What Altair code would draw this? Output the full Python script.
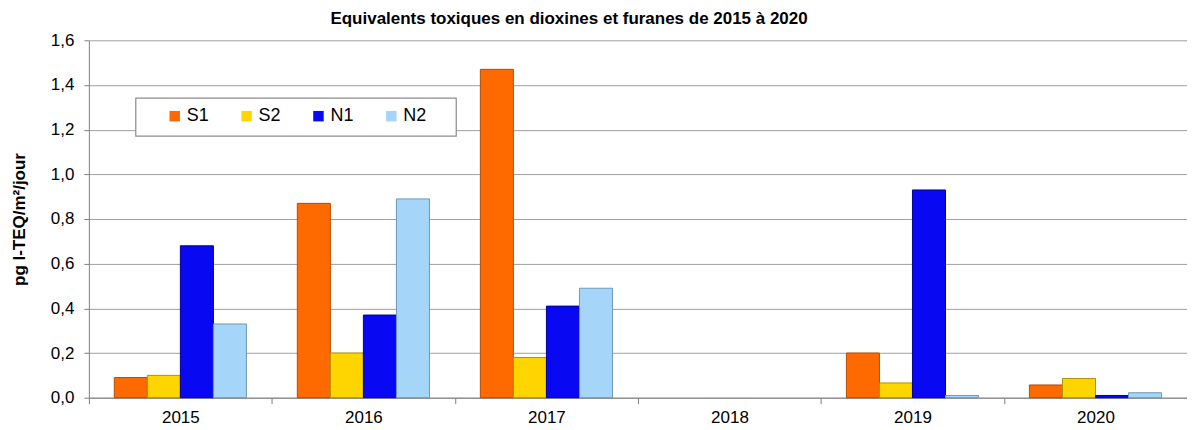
import altair as alt
import pandas as pd

years = ["2015", "2016", "2017", "2018", "2019", "2020"]
series = ["S1", "S2", "N1", "N2"]
s1 = [0.09, 0.87, 1.47, None, 0.20, 0.057]
s2 = [0.10, 0.20, 0.18, None, 0.066, 0.086]
n1 = [0.68, 0.37, 0.41, None, 0.93, 0.01]
n2 = [0.33, 0.89, 0.49, None, 0.01, 0.022]
colors = ["#FF6A00", "#FFD500", "#0808F2", "#A6D5FA"]
strokes = ["#B84A00", "#B09200", "#000098", "#6E98B8"]

rows = []
for name, vals in zip(series, [s1, s2, n1, n2]):
    for y, v in zip(years, vals):
        rows.append({"year": y, "serie": name, "value": v})
df = pd.DataFrame(rows)

FONT = "Liberation Sans"

bars = alt.Chart(df).mark_bar(strokeWidth=1).encode(
    x=alt.X("year:N", sort=years, title=None,
            scale=alt.Scale(paddingInner=0, paddingOuter=0),
            axis=alt.Axis(labelAngle=0, labelFontSize=17, labelFont=FONT,
                          labelColor="#000000", tickBand="extent", tickSize=6,
                          tickColor="#808080", domainColor="#808080",
                          labelPadding=6, grid=False)),
    xOffset=alt.XOffset("serie:N", sort=series,
                        scale=alt.Scale(paddingInner=0, paddingOuter=0.77)),
    y=alt.Y("value:Q", title="pg I-TEQ/m²/jour",
            scale=alt.Scale(domain=[0, 1.6], nice=False),
            axis=alt.Axis(values=[0, 0.2, 0.4, 0.6, 0.8, 1.0, 1.2, 1.4, 1.6],
                          labelExpr="replace(format(datum.value, '.1f'), '.', ',')",
                          labelFontSize=17, labelFont=FONT, labelColor="#000000",
                          tickSize=5, tickColor="#808080", domainColor="#808080",
                          labelPadding=10, gridColor="#A0A0A0",
                          titleFont=FONT, titleFontSize=17, titleFontWeight="bold",
                          titleColor="#000000", titlePadding=22)),
    color=alt.Color("serie:N", sort=series,
                    scale=alt.Scale(domain=series, range=colors),
                    legend=alt.Legend(orient="none", legendX=77, legendY=67,
                                      direction="horizontal", title=None,
                                      labelFontSize=18, labelFont=FONT,
                                      labelColor="#000000", symbolType="square",
                                      symbolSize=110, columnPadding=28,
                                      labelOffset=3, symbolStrokeWidth=0)),
    stroke=alt.Stroke("serie:N", sort=series,
                      scale=alt.Scale(domain=series, range=strokes), legend=None),
)

box = alt.Chart(pd.DataFrame({"a": [0]})).mark_rect(
    fill="white", stroke="#8C8C8C", strokeWidth=1.2
).encode(x=alt.value(47), x2=alt.value(368), y=alt.value(58), y2=alt.value(96))

chart = alt.layer(bars, box).properties(
    width=1100, height=358,
    title=alt.TitleParams(
        "Equivalents toxiques en dioxines et furanes de 2015 à 2020",
        font=FONT, fontSize=17, fontWeight="bold", color="#000000",
        anchor="middle", dx=-69, offset=3),
    autosize=alt.AutoSizeParams(type="none"),
    padding={"left": 81, "top": 32, "right": 0, "bottom": 30},
).configure_view(stroke=None).configure_axis(labelFontWeight="normal")

chart.save("out.html", embed_options={"renderer": "svg", "actions": False})
